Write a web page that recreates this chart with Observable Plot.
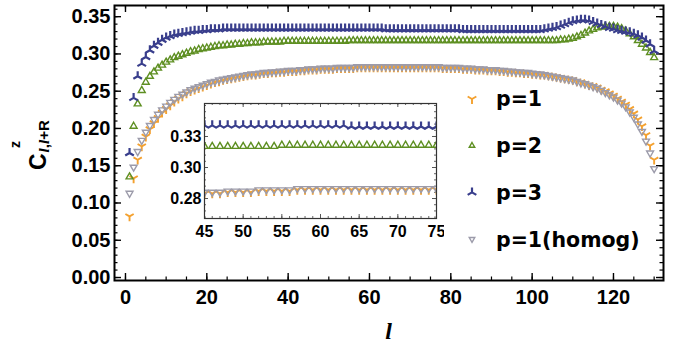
<!DOCTYPE html>
<html><head><meta charset="utf-8">
<script src="https://cdn.jsdelivr.net/npm/d3@7"></script>
<script src="https://cdn.jsdelivr.net/npm/@observablehq/plot@0.6"></script>
<style>
html,body{margin:0;padding:0;background:#fff;}
#wrap{position:relative;width:686px;height:346px;overflow:hidden;}
#wrap > svg{position:absolute;left:0;top:0;}
#wrap > svg.inset{left:158px;top:100px;}
</style></head>
<body><div id="wrap"></div>
<script>
// ---------- data ----------
const sites = d3.range(1, 131); // l = 1..130

const p1 = [
0.082,0.133,0.158,0.176,0.189,0.199,0.207,0.214,0.221,0.226,
0.231,0.236,0.240,0.243,0.247,0.250,0.252,0.254,0.256,0.258,
0.260,0.262,0.263,0.265,0.266,0.267,0.268,0.269,0.270,0.271,
0.272,0.272,0.273,0.274,0.274,0.275,0.275,0.276,0.276,0.277,
0.277,0.277,0.278,0.278,0.279,0.279,0.279,0.280,0.280,0.280,
0.280,0.281,0.281,0.281,0.281,0.281,0.282,0.282,0.282,0.282,
0.282,0.282,0.282,0.282,0.282,0.282,0.282,0.282,0.282,0.282,
0.282,0.282,0.282,0.282,0.282,0.282,0.282,0.281,0.281,0.281,
0.281,0.281,0.280,0.280,0.280,0.279,0.279,0.279,0.278,0.278,
0.278,0.277,0.277,0.276,0.276,0.275,0.275,0.274,0.274,0.273,
0.273,0.272,0.272,0.271,0.270,0.269,0.268,0.267,0.266,0.265,
0.263,0.262,0.260,0.258,0.257,0.255,0.252,0.250,0.247,0.244,
0.240,0.236,0.232,0.226,0.220,0.212,0.203,0.191,0.177,0.158];

const p2 = [
0.135,0.203,0.233,0.251,0.262,0.270,0.276,0.281,0.285,0.289,
0.292,0.295,0.297,0.299,0.301,0.303,0.304,0.306,0.307,0.308,
0.309,0.310,0.311,0.311,0.312,0.312,0.313,0.313,0.314,0.314,
0.315,0.315,0.315,0.316,0.316,0.316,0.316,0.316,0.317,0.317,
0.317,0.317,0.317,0.317,0.317,0.317,0.317,0.317,0.317,0.317,
0.317,0.317,0.317,0.317,0.318,0.318,0.318,0.318,0.318,0.318,
0.318,0.318,0.318,0.318,0.318,0.318,0.318,0.318,0.318,0.318,
0.318,0.318,0.318,0.318,0.318,0.318,0.318,0.318,0.318,0.318,
0.318,0.318,0.318,0.318,0.318,0.318,0.318,0.318,0.318,0.318,
0.318,0.318,0.318,0.318,0.318,0.318,0.318,0.318,0.318,0.318,
0.318,0.318,0.318,0.318,0.318,0.318,0.319,0.319,0.320,0.321,
0.323,0.325,0.328,0.331,0.333,0.335,0.336,0.337,0.337,0.337,
0.336,0.334,0.331,0.327,0.323,0.318,0.313,0.308,0.302,0.295];

const p3 = [
0.167,0.241,0.270,0.287,0.296,0.305,0.311,0.315,0.319,0.322,
0.324,0.326,0.327,0.328,0.329,0.330,0.331,0.331,0.332,0.332,
0.333,0.333,0.333,0.334,0.334,0.334,0.334,0.334,0.334,0.334,
0.334,0.334,0.334,0.334,0.334,0.334,0.334,0.334,0.334,0.334,
0.334,0.334,0.334,0.334,0.334,0.334,0.334,0.334,0.334,0.334,
0.334,0.334,0.334,0.334,0.334,0.334,0.334,0.334,0.334,0.334,
0.334,0.334,0.334,0.333,0.333,0.333,0.333,0.333,0.333,0.333,
0.333,0.333,0.333,0.333,0.333,0.333,0.333,0.333,0.333,0.333,
0.333,0.333,0.332,0.332,0.332,0.332,0.332,0.332,0.332,0.332,
0.332,0.332,0.332,0.332,0.332,0.332,0.332,0.332,0.332,0.332,
0.332,0.332,0.333,0.334,0.335,0.336,0.338,0.340,0.342,0.344,
0.345,0.346,0.346,0.345,0.343,0.341,0.339,0.337,0.335,0.334,
0.332,0.331,0.330,0.329,0.327,0.325,0.322,0.318,0.313,0.304];

const p1homog = [
0.113,0.148,0.169,0.184,0.195,0.204,0.212,0.219,0.225,0.230,
0.235,0.239,0.243,0.246,0.249,0.252,0.254,0.256,0.258,0.260,
0.262,0.263,0.265,0.266,0.267,0.268,0.269,0.270,0.271,0.272,
0.273,0.273,0.274,0.275,0.275,0.276,0.276,0.277,0.277,0.278,
0.278,0.278,0.279,0.279,0.280,0.280,0.280,0.281,0.281,0.281,
0.281,0.282,0.282,0.282,0.282,0.282,0.283,0.283,0.283,0.283,
0.283,0.283,0.283,0.283,0.283,0.283,0.283,0.283,0.283,0.283,
0.283,0.283,0.283,0.283,0.283,0.283,0.283,0.282,0.282,0.282,
0.282,0.282,0.281,0.281,0.281,0.280,0.280,0.280,0.279,0.279,
0.279,0.278,0.278,0.277,0.277,0.276,0.276,0.275,0.275,0.274,
0.273,0.273,0.272,0.271,0.270,0.269,0.268,0.267,0.266,0.265,
0.263,0.261,0.260,0.258,0.256,0.254,0.251,0.248,0.245,0.242,
0.238,0.234,0.229,0.222,0.215,0.206,0.196,0.183,0.167,0.146];

const seriesNames = ["p=1", "p=2", "p=3", "p=1(homog)"];
const seriesColors = ["#F4A12F", "#5E8F22", "#393E8C", "#9C9BAA"];

const mainXTicks = [0, 20, 40, 60, 80, 100, 120];
const mainXMinor = [0,5,10,15,20,25,30,35,40,45,50,55,60,65,70,75,80,85,90,95,100,105,110,115,120,125,130];
const mainYTicks = [0, 0.05, 0.10, 0.15, 0.20, 0.25, 0.30, 0.35];
const mainYTickLabels = ["0.00","0.05","0.10","0.15","0.20","0.25","0.30","0.35"];
const insetXTicks = [45, 50, 55, 60, 65, 70, 75];
const insetYTicks = [0.275, 0.300, 0.325];
const insetYTickLabels = ["0.28", "0.30", "0.33"];

// ---------- symbols ----------
const S3 = Math.sqrt(3) / 2;
const symWye = {draw(c, size) { const r = Math.sqrt(size / Math.PI);
  c.moveTo(0, 0); c.lineTo(0, r); c.moveTo(0, 0); c.lineTo(-r * S3, -r / 2); c.moveTo(0, 0); c.lineTo(r * S3, -r / 2); }};
const symLambda = {draw(c, size) { const r = Math.sqrt(size / Math.PI);
  c.moveTo(0, 0); c.lineTo(0, -r); c.moveTo(0, 0); c.lineTo(-r * S3, r / 2); c.moveTo(0, 0); c.lineTo(r * S3, r / 2); }};
const symTriUp = {draw(c, size) { const r = Math.sqrt(size / Math.PI);
  c.moveTo(0, -r); c.lineTo(r * S3, r / 2); c.lineTo(-r * S3, r / 2); c.closePath(); }};
const symTriDown = {draw(c, size) { const r = Math.sqrt(size / Math.PI);
  c.moveTo(0, r); c.lineTo(r * S3, -r / 2); c.lineTo(-r * S3, -r / 2); c.closePath(); }};
const symbols = [symWye, symTriUp, symLambda, symTriDown];
const radii = [4.8, 4.0, 5.0, 4.0];
const widths = [1.9, 1.4, 2.2, 1.4];
const legendRadii = [5.0, 3.2, 5.0, 3.2];

const seriesValues = [p1, p2, p3, p1homog];
const rows = seriesValues.flatMap((vals, k) => vals.map((v, i) => ({l: sites[i], v, k})));

function dotMarks(filter, extra = {}) {
  return seriesValues.map((_, k) => Plot.dot(rows.filter(d => d.k === k && filter(d)), {
    x: "l", y: "v", symbol: symbols[k], r: radii[k], stroke: seriesColors[k],
    strokeWidth: widths[k], fill: "none", ...extra
  }));
}

// ---------- main plot ----------
const W = 686, H = 346, mL = 114, mT = 5, mR = 23, mB = 66;
const fw = W - mL - mR, fh = H - mT - mB;
const mainYMinor = d3.range(0, 37).map(i => i / 100);
const font = "'Liberation Sans', Arial, Helvetica, sans-serif";

const main = Plot.plot({
  width: W, height: H, marginLeft: mL, marginTop: mT, marginRight: mR, marginBottom: mB,
  x: {domain: [-2.7, 132.3]},
  y: {domain: [-0.004, 0.365]},
  style: {fontFamily: font, fontSize: "20px", fontWeight: "bold", color: "#000", background: "white"},
  marks: [
    Plot.axisY({ticks: mainYTicks, tickSize: 0, tickPadding: 4, label: null, fontSize: 20,
      tickFormat: d => mainYTickLabels[mainYTicks.indexOf(d)] ?? d.toFixed(2)}),
    Plot.axisX({ticks: mainXTicks, tickSize: 0, tickPadding: 9, label: null, fontSize: 20,
      tickFormat: d => String(d)}),
    Plot.tickY(mainYMinor, {y: d => d, insetRight: fw - 3.5, stroke: "#000", strokeWidth: 1.2}),
    Plot.tickY(mainYMinor, {y: d => d, insetLeft: fw - 3.5, stroke: "#000", strokeWidth: 1.2}),
    Plot.tickY(mainYTicks, {y: d => d, insetRight: fw - 7, stroke: "#000", strokeWidth: 1.4}),
    Plot.tickY(mainYTicks, {y: d => d, insetLeft: fw - 7, stroke: "#000", strokeWidth: 1.4}),
    Plot.tickX(mainXMinor, {x: d => d, insetTop: fh - 3.5, stroke: "#000", strokeWidth: 1.2}),
    Plot.tickX(mainXMinor, {x: d => d, insetBottom: fh - 3.5, stroke: "#000", strokeWidth: 1.2}),
    Plot.tickX(mainXTicks, {x: d => d, insetTop: fh - 7, stroke: "#000", strokeWidth: 1.4}),
    Plot.tickX(mainXTicks, {x: d => d, insetBottom: fh - 7, stroke: "#000", strokeWidth: 1.4}),
    ...dotMarks(() => true),
    Plot.frame({stroke: "#000", strokeWidth: 2})
  ]
});
document.getElementById("wrap").appendChild(main);

// axis titles
const msvg = d3.select(main);
const yl = msvg.append("text").attr("transform", "translate(46,170) rotate(-90)")
  .attr("text-anchor", "start")
  .attr("font-family", font).attr("font-weight", "bold").attr("fill", "#000");
yl.append("tspan").attr("font-size", 23).text("C");
const subSize = 15;
yl.append("tspan").attr("font-size", subSize).attr("dx", 1).attr("dy", 3)
  .attr("font-family", "'Liberation Serif', serif").attr("font-style", "italic").text("l");
yl.append("tspan").attr("font-size", subSize).text(",");
yl.append("tspan").attr("font-size", subSize)
  .attr("font-family", "'Liberation Serif', serif").attr("font-style", "italic").text("l");
yl.append("tspan").attr("font-size", subSize).text("+R");
yl.append("tspan").attr("font-size", 14).attr("x", 22).attr("y", -26).text("z");

msvg.append("text").attr("x", mL + fw / 2).attr("y", 339).attr("text-anchor", "middle")
  .attr("font-family", "'Liberation Serif', serif").attr("font-style", "italic").attr("font-weight", "bold")
  .attr("font-size", 24).attr("fill", "#000").text("l");

// legend
const lg = msvg.append("g");
seriesNames.forEach((name, k) => {
  const y = 99 + k * 46.7;
  const p = d3.path();
  symbols[k].draw(p, Math.PI * legendRadii[k] ** 2);
  lg.append("path").attr("transform", `translate(472,${y})`).attr("d", p.toString())
    .attr("fill", "none").attr("stroke", seriesColors[k]).attr("stroke-width", widths[k]);
  lg.append("text").attr("x", 496).attr("y", y + 7.4).attr("text-anchor", "start")
    .attr("font-family", "'DejaVu Sans', sans-serif").attr("font-weight", "bold")
    .attr("font-size", 20.5).attr("fill", "#000").text(name);
});

// ---------- inset ----------
const iw = 232, ih = 115, iL = 46, iT = 3, iR = 8, iB = 26;
const insetXMinor = d3.range(45, 76);
const insetYMinor = d3.range(0, 19).map(i => 0.26 + i * 0.005);
const inset = Plot.plot({
  width: iw + iL + iR, height: ih + iT + iB,
  marginLeft: iL, marginTop: iT, marginRight: iR, marginBottom: iB,
  x: {domain: [45, 75]},
  y: {domain: [0.2589, 0.3516]},
  style: {fontFamily: font, fontSize: "16px", fontWeight: "bold", color: "#000", background: "transparent"},
  marks: [
    Plot.frame({fill: "white", stroke: "none"}),
    Plot.axisY({ticks: insetYTicks, tickSize: 0, tickPadding: 3, label: null, fontSize: 16,
      tickFormat: d => insetYTickLabels[insetYTicks.indexOf(d)]}),
    Plot.axisX({ticks: insetXTicks, tickSize: 0, tickPadding: 7, label: null, fontSize: 16,
      tickFormat: d => String(d)}),
    Plot.tickY(insetYMinor, {y: d => d, insetRight: iw - 2, stroke: "#666", strokeWidth: 1}),
    Plot.tickY(insetYMinor, {y: d => d, insetLeft: iw - 2, stroke: "#666", strokeWidth: 1}),
    Plot.tickY(insetYTicks, {y: d => d, insetRight: iw - 4, stroke: "#555", strokeWidth: 1}),
    Plot.tickY(insetYTicks, {y: d => d, insetLeft: iw - 4, stroke: "#555", strokeWidth: 1}),
    Plot.tickX(insetXMinor, {x: d => d, insetTop: ih - 2, stroke: "#666", strokeWidth: 1}),
    Plot.tickX(insetXMinor, {x: d => d, insetBottom: ih - 2, stroke: "#666", strokeWidth: 1}),
    Plot.tickX(insetXTicks, {x: d => d, insetTop: ih - 4, stroke: "#555", strokeWidth: 1}),
    Plot.tickX(insetXTicks, {x: d => d, insetBottom: ih - 4, stroke: "#555", strokeWidth: 1}),
    ...dotMarks(d => d.l >= 44 && d.l <= 76, {clip: true}),
    Plot.frame({stroke: "#333", strokeWidth: 1.2})
  ]
});
inset.classList.add("inset");
document.getElementById("wrap").appendChild(inset);
</script>
</body></html>
